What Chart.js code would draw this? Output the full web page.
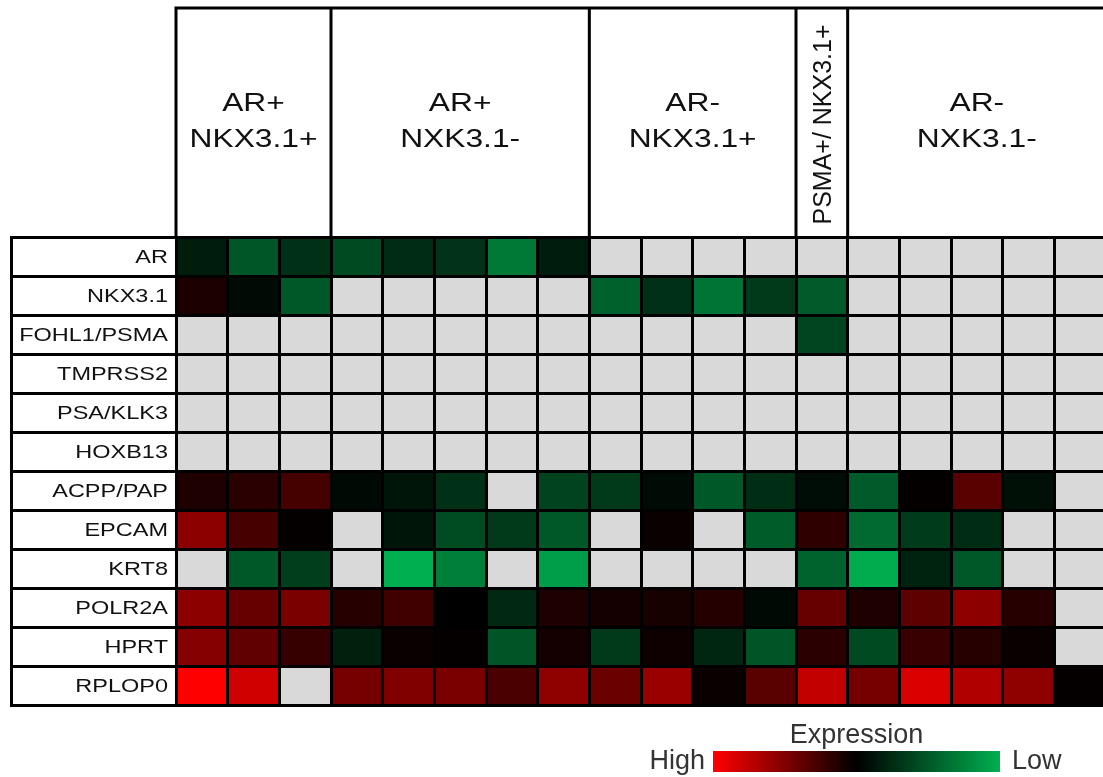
<!DOCTYPE html>
<html>
<head>
<meta charset="utf-8">
<script src="https://cdn.jsdelivr.net/npm/chart.js@4/dist/chart.umd.min.js"></script>
<style>
  html, body { margin: 0; padding: 0; background: #fff; overflow: hidden; }
  #wrap { width: 1110px; height: 777px; }
</style>
</head>
<body>
<div id="wrap"><canvas id="heat" width="1110" height="777"></canvas></div>
<script>
// genes, top to bottom
const GENES = ['AR', 'NKX3.1', 'FOHL1/PSMA', 'TMPRSS2', 'PSA/KLK3', 'HOXB13',
  'ACPP/PAP', 'EPCAM', 'KRT8', 'POLR2A', 'HPRT', 'RPLOP0'];

// column groups (header boxes), left to right
const GROUP_LABELS = [['AR+', 'NKX3.1+'], ['AR+', 'NXK3.1-'], ['AR-', 'NKX3.1+'], ['PSMA+/ NKX3.1+'], ['AR-', 'NXK3.1-']];
const GROUP_SIZES = [3, 5, 4, 1, 5];
const GROUP_VERTICAL = [false, false, false, true, false];

// relative expression per cell: +1 = high (red), -1 = low (green), null = not detected (grey)
const AR_VALS      = [-0.16, -0.49, -0.27, -0.42, -0.25, -0.29, -0.68, -0.16, null, null, null, null, null, null, null, null, null, null];
const NKX31_VALS   = [0.11, -0.06, -0.5, null, null, null, null, null, -0.55, -0.27, -0.66, -0.33, -0.51, null, null, null, null, null];
const PSMA_VALS    = [null, null, null, null, null, null, null, null, null, null, null, null, -0.39, null, null, null, null, null];
const TMPRSS2_VALS = [null, null, null, null, null, null, null, null, null, null, null, null, null, null, null, null, null, null];
const KLK3_VALS    = [null, null, null, null, null, null, null, null, null, null, null, null, null, null, null, null, null, null];
const HOXB13_VALS  = [null, null, null, null, null, null, null, null, null, null, null, null, null, null, null, null, null, null];
const ACPP_VALS    = [0.12, 0.17, 0.27, -0.05, -0.12, -0.27, null, -0.38, -0.33, -0.06, -0.5, -0.26, -0.07, -0.51, 0.02, 0.35, -0.09, null];
const EPCAM_VALS   = [0.55, 0.28, 0.02, null, -0.12, -0.43, -0.33, -0.5, null, 0.04, null, -0.53, 0.18, -0.6, -0.34, -0.25, null, null];
const KRT8_VALS    = [null, -0.5, -0.35, null, -1.0, -0.72, null, -0.9, null, null, null, null, -0.56, -0.98, -0.2, -0.5, null, null];
const POLR2A_VALS  = [0.55, 0.4, 0.48, 0.15, 0.25, 0.0, -0.23, 0.12, 0.08, 0.09, 0.14, -0.05, 0.4, 0.12, 0.36, 0.55, 0.15, null];
const HPRT_VALS    = [0.52, 0.38, 0.21, -0.18, 0.04, 0.02, -0.48, 0.08, -0.33, 0.06, -0.21, -0.48, 0.17, -0.42, 0.22, 0.15, 0.04, null];
const RPLOP0_VALS  = [1.0, 0.82, null, 0.46, 0.5, 0.48, 0.29, 0.56, 0.42, 0.6, 0.04, 0.35, 0.76, 0.46, 0.86, 0.69, 0.56, 0.02];

const EXPRESSION = [AR_VALS, NKX31_VALS, PSMA_VALS, TMPRSS2_VALS, KLK3_VALS, HOXB13_VALS,
  ACPP_VALS, EPCAM_VALS, KRT8_VALS, POLR2A_VALS, HPRT_VALS, RPLOP0_VALS];

const N_COLS = GROUP_SIZES.reduce((a, b) => a + b, 0);
const FONT = '"Liberation Sans", Arial, sans-serif';
const TEXT_COLOR = '#111';
const STRETCH = 1.27; // the original figure is widened horizontally

// red (high) -> black -> green (low), grey when not detected
function cellColor(v) {
  if (v === null) return '#d9d9d9';
  if (v >= 0) return `rgb(${Math.round(255 * v)},0,0)`;
  return `rgb(0,${Math.round(176 * -v)},${Math.round(80 * -v)})`;
}

// one dataset per sample column, floating bars [c, c+1] on each gene row
const datasets = [];
for (let c = 0; c < N_COLS; c++) {
  datasets.push({
    data: GENES.map(() => [c, c + 1]),
    backgroundColor: EXPRESSION.map(row => cellColor(row[c])),
    borderWidth: 0,
    grouped: false,
    barPercentage: 1,
    categoryPercentage: 1
  });
}

function stretchedText(ctx, text, x, y, align) {
  ctx.save();
  ctx.translate(x, y);
  ctx.scale(STRETCH, 1);
  ctx.textAlign = align;
  ctx.fillText(text, 0, 0);
  ctx.restore();
}

// header boxes, row label box, colour key
const framePlugin = {
  id: 'frame',
  afterDraw(chart) {
    const { ctx, chartArea: ca, scales: { x, y } } = chart;
    const headTop = 8;
    ctx.save();
    ctx.strokeStyle = '#000';
    ctx.lineWidth = 3;
    ctx.beginPath();
    // left edge of gene label box
    ctx.moveTo(y.left + 1.5, ca.top);
    ctx.lineTo(y.left + 1.5, ca.bottom);
    // header top
    ctx.moveTo(ca.left - 1.5, headTop);
    ctx.lineTo(chart.width, headTop);
    let start = 0;
    const bounds = [0];
    GROUP_SIZES.forEach(n => { start += n; bounds.push(start); });
    bounds.forEach(b => {
      const px = x.getPixelForValue(b);
      ctx.moveTo(px, headTop);
      ctx.lineTo(px, ca.top);
    });
    ctx.stroke();

    ctx.fillStyle = TEXT_COLOR;
    ctx.textBaseline = 'middle';

    // gene labels
    ctx.font = `18.5px ${FONT}`;
    GENES.forEach((g, i) => {
      stretchedText(ctx, g, ca.left - 8, y.getPixelForValue(i) + 1, 'right');
    });

    // group headers
    const midY = (headTop + ca.top) / 2;
    GROUP_LABELS.forEach((lines, gi) => {
      const cx = (x.getPixelForValue(bounds[gi]) + x.getPixelForValue(bounds[gi + 1])) / 2;
      ctx.font = `25px ${FONT}`;
      if (GROUP_VERTICAL[gi]) {
        ctx.save();
        ctx.translate(cx + 2, midY + 2);
        ctx.rotate(-Math.PI / 2);
        ctx.textAlign = 'center';
        ctx.fillText(lines.join(' '), 0, 0);
        ctx.restore();
      } else {
        stretchedText(ctx, lines[0], cx, midY - 18, 'center');
        stretchedText(ctx, lines[1], cx, midY + 18, 'center');
      }
    });

    // colour key
    const kx0 = 713, kx1 = 1000, ky0 = 751, ky1 = 772;
    const grad = ctx.createLinearGradient(kx0, 0, kx1, 0);
    grad.addColorStop(0, cellColor(1));
    grad.addColorStop(0.5, cellColor(0));
    grad.addColorStop(1, cellColor(-1));
    ctx.fillStyle = grad;
    ctx.fillRect(kx0, ky0, kx1 - kx0, ky1 - ky0);

    ctx.fillStyle = '#333';
    ctx.font = `27px ${FONT}`;
    ctx.textAlign = 'center';
    ctx.fillText('Expression', (kx0 + kx1) / 2, 736);
    ctx.textAlign = 'right';
    ctx.fillText('High', kx0 - 8, 762);
    ctx.textAlign = 'left';
    ctx.fillText('Low', kx1 + 12, 762);
    ctx.restore();
  }
};

new Chart(document.getElementById('heat').getContext('2d'), {
  type: 'bar',
  data: { labels: GENES, datasets },
  options: {
    indexAxis: 'y',
    responsive: false,
    animation: false,
    layout: { padding: { left: 10, top: 237, right: 4, bottom: 72 } },
    plugins: { legend: { display: false }, tooltip: { enabled: false } },
    scales: {
      x: {
        type: 'linear',
        min: 0,
        max: N_COLS,
        z: 1,
        afterBuildTicks: s => { s.ticks = Array.from({ length: N_COLS + 1 }, (_, i) => ({ value: i })); },
        afterFit: s => { s.height = 0; },
        ticks: { display: false },
        grid: { color: '#000', lineWidth: 3, drawTicks: false, z: 1 },
        border: { display: false }
      },
      y: {
        type: 'category',
        offset: true,
        z: 1,
        afterFit: s => { s.width = 166; },
        ticks: { display: false },
        grid: { offset: true, color: '#000', lineWidth: 3, tickLength: 166, z: 1 },
        border: { display: true, color: '#000', width: 3, z: 1 }
      }
    }
  },
  plugins: [framePlugin]
});
</script>
</body>
</html>
